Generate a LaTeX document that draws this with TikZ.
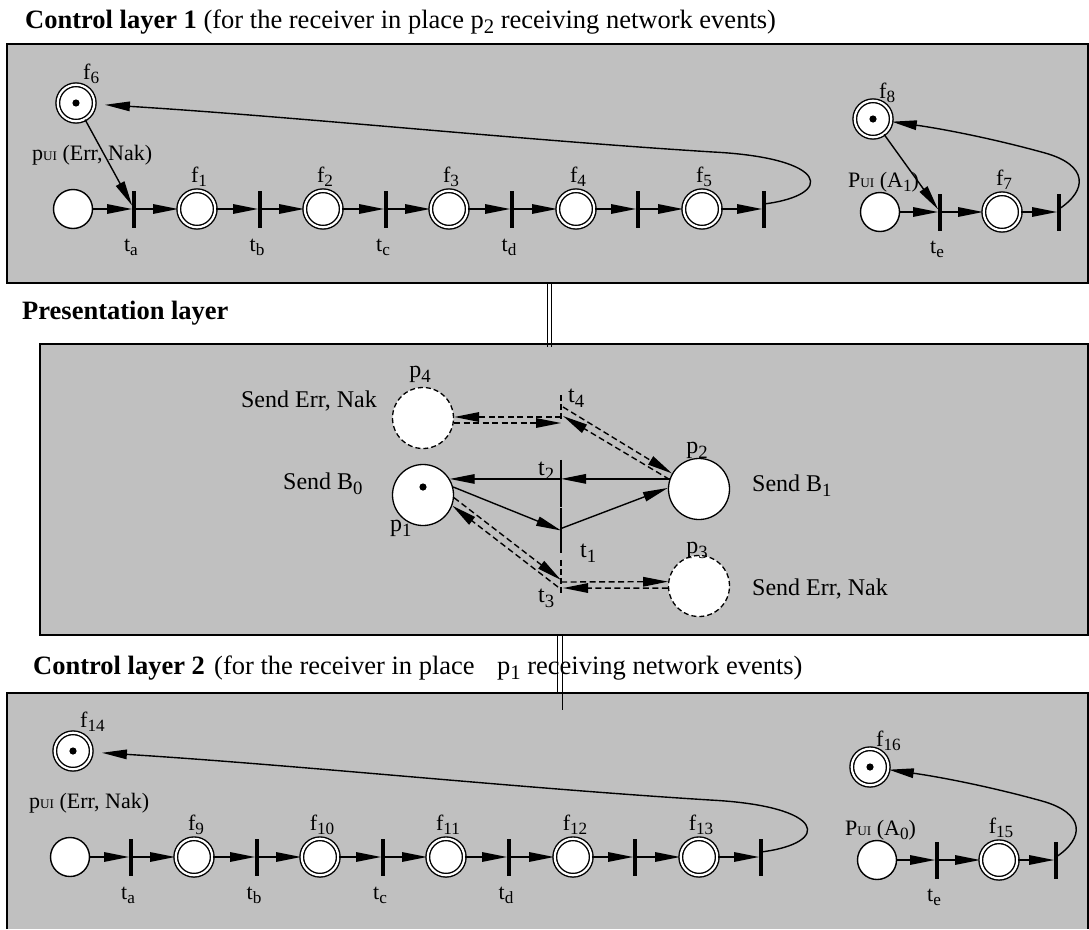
\documentclass[tikz,border=0pt]{standalone}
\usepackage{fontspec}
\setmainfont{Liberation Serif}
\usetikzlibrary{arrows.meta,calc}
\definecolor{boxgray}{RGB}{192,192,192}
\newcommand\sbs[1]{\raisebox{-0.22em}{\scalebox{0.78}{#1}}}
\newcommand\ui{\scalebox{0.6}{UI}}
\tikzset{
  boxline/.style={draw=black, line width=1.6pt},
  plc/.style={circle, draw, fill=white, line width=1.4pt, minimum size=39pt, inner sep=0pt},
  fplc/.style={circle, draw, double, double distance=2.2pt, fill=white, line width=1.4pt, minimum size=36.5pt, inner sep=0pt},
  bigplc/.style={circle, draw, fill=white, line width=1.3pt, minimum size=61pt, inner sep=0pt},
  dplc/.style={bigplc, dash pattern=on 5pt off 3pt},
  tr/.style={rectangle, fill=black, minimum width=3.4pt, minimum height=37pt, inner sep=0pt},
  mtr/.style={rectangle, minimum width=1.4pt, minimum height=#1, inner sep=0pt},
  arr/.style={-{Triangle[length=25pt,width=9.5pt]}, line width=1.4pt},
  darr/.style={arr, dash pattern=on 6pt off 3.5pt},
  lbl/.style={font=\fontsize{22}{25}\selectfont, inner sep=0pt},
  mlbl/.style={font=\fontsize{24}{28}\selectfont, inner sep=0pt},
  ttl/.style={font=\fontsize{26.5}{30}\selectfont, inner sep=0pt, anchor=base west},
}
% control layer: #1 prefix, #2 base number, #3 A subscript, #4 shift x, #5 shift y
\newcommand\ctrllayer[5]{%
\begin{scope}[shift={(#4,#5)}]
  \node[plc]  (#1pu) at (73,209) {};
  \node[tr]   (#1ta) at (134,209) {};
  \node[fplc] (#1f1) at (197,209) {};
  \node[tr]   (#1tb) at (260,209) {};
  \node[fplc] (#1f2) at (323,209) {};
  \node[tr]   (#1tc) at (386,209) {};
  \node[fplc] (#1f3) at (449,209) {};
  \node[tr]   (#1td) at (512,209) {};
  \node[fplc] (#1f4) at (576,209) {};
  \node[tr]   (#1tf) at (638,209) {};
  \node[fplc] (#1f5) at (702,209) {};
  \node[tr]   (#1tg) at (764,209) {};
  \node[fplc] (#1f6) at (76,103) {};
  \fill (#1f6) circle (3.6pt);
  \node[fplc] (#1f8) at (873,119) {};
  \fill (#1f8) circle (3.6pt);
  \node[plc]  (#1pa) at (880,212) {};
  \node[tr]   (#1te) at (940,212) {};
  \node[fplc] (#1f7) at (1002,212) {};
  \node[tr]   (#1tl) at (1059,212) {};
  % labels
  \node[lbl, anchor=base west] (#1lf6) at (83,79) {f\sbs{\the\numexpr#2+6\relax}};
  \node[lbl, anchor=base west] (#1lpu) at (32,160) {p\ui\ (Err, Nak)};
  \node[lbl, anchor=base] (#1lf1) at (199,182) {f\sbs{\the\numexpr#2+1\relax}};
  \node[lbl, anchor=base] (#1lf2) at (325,182) {f\sbs{\the\numexpr#2+2\relax}};
  \node[lbl, anchor=base] (#1lf3) at (451,182) {f\sbs{\the\numexpr#2+3\relax}};
  \node[lbl, anchor=base] (#1lf4) at (578,182) {f\sbs{\the\numexpr#2+4\relax}};
  \node[lbl, anchor=base] (#1lf5) at (704,182) {f\sbs{\the\numexpr#2+5\relax}};
  \node[lbl, anchor=base] (#1lta) at (131,251) {t\sbs{a}};
  \node[lbl, anchor=base] (#1ltb) at (257,251) {t\sbs{b}};
  \node[lbl, anchor=base] (#1ltc) at (383,251) {t\sbs{c}};
  \node[lbl, anchor=base] (#1ltd) at (509,251) {t\sbs{d}};
  \node[lbl, anchor=base west] (#1lf8) at (879,98) {f\sbs{\the\numexpr#2+8\relax}};
  \node[lbl, anchor=base west] (#1lpa) at (848,187) {P\ui\ (A\sbs{#3})};
  \node[lbl, anchor=base] (#1lte) at (937,253) {t\sbs{e}};
  \node[lbl, anchor=base] (#1lf7) at (1004,185) {f\sbs{\the\numexpr#2+7\relax}};
  % arcs
  \draw[arr] (#1pu) -- (#1ta);
  \draw[arr] (#1ta) -- (#1f1);
  \draw[arr] (#1f1) -- (#1tb);
  \draw[arr] (#1tb) -- (#1f2);
  \draw[arr] (#1f2) -- (#1tc);
  \draw[arr] (#1tc) -- (#1f3);
  \draw[arr] (#1f3) -- (#1td);
  \draw[arr] (#1td) -- (#1f4);
  \draw[arr] (#1f4) -- (#1tf);
  \draw[arr] (#1tf) -- (#1f5);
  \draw[arr] (#1f5) -- (#1tg);
  \draw[arr, shorten >=10pt] ($(#1tg)+(0,-5)$) .. controls (835,195) and (830,158) .. (713,152)
      .. controls (520,140) and (300,117) .. (#1f6);
  \draw[arr] (#1pa) -- (#1te);
  \draw[arr] (#1te) -- (#1f7);
  \draw[arr] (#1f7) -- (#1tl);
  \draw[arr] ($(#1tl)+(0,-3)$) .. controls (1088,190) and (1088,165) .. (1045,153)
      .. controls (1000,140.5) and (950,130) .. (#1f8);
\end{scope}}

\begin{document}
\begin{tikzpicture}[x=1pt,y=-1pt]
\useasboundingbox (0,0) rectangle (1089,929);
% boxes
\fill[boxgray] (7,44) rectangle (1088,283);
\draw[boxline] (7,44) rectangle (1088,283);
\fill[boxgray] (40,344) rectangle (1088,635);
\draw[boxline] (40,344) rectangle (1088,635);
\fill[boxgray] (7,693) rectangle (1088,929);
\draw[boxline] (7,929) -- (7,693) -- (1088,693) -- (1088,929);
% joining double lines
\draw[line width=1pt] (547,283) -- (547,347);
\draw[line width=1pt] (551,283) -- (551,347);
\draw[line width=1pt] (557,635) -- (557,693);
\draw[line width=1pt] (562.5,635) -- (562.5,710);
% titles
\node[ttl] (title1) at (25,28) {\textbf{Control layer 1} (for the receiver in place p\sbs{2} receiving network events)};
\node[ttl] (title2) at (22,319) {\textbf{Presentation layer}};
\node[ttl] (title3) at (33,674) {\textbf{Control layer 2}\hspace{0.1em} (for the receiver in place\hspace{0.6em} p\sbs{1} receiving network events)};

% control layers
\ctrllayer{a}{0}{1}{0}{0}
\draw[arr] (af6) -- (ata);
\draw[arr] (af8) -- (ate);
\ctrllayer{b}{8}{0}{-3}{648}

% presentation layer
\node[dplc]   (p4) at (423,418) {};
\node[bigplc] (p1) at (423,495) {};
\fill (423,487) circle (3.6pt);
\node[bigplc] (p2) at (699,489) {};
\node[dplc]   (p3) at (699,586) {};
\node[mtr=26pt] (t4) at (561,408) {};
\node[mtr=47pt] (t2) at (561,483.5) {};
\node[mtr=45pt] (t1) at (561,530.5) {};
\node[mtr=34pt] (t3) at (561,577) {};
\draw[line width=1.3pt, dash pattern=on 6pt off 3pt] (t4.north) -- (t4.south);
\draw[line width=1.3pt] (t2.north) -- (t2.south);
\draw[line width=1.3pt] (t1.north) -- (t1.south);
\draw[line width=1.3pt, dash pattern=on 6pt off 3pt] (t3.north) -- (t3.south);

\node[mlbl, anchor=base east] (l4) at (377,407) {Send Err, Nak};
\node[mlbl, anchor=base west] (l1) at (283,489) {Send B\sbs{0}};
\node[mlbl, anchor=base west] (l2) at (752,491) {Send B\sbs{1}};
\node[mlbl, anchor=base west] (l3) at (752,595) {Send Err, Nak};
\node[mlbl, anchor=base] (lp4) at (420,377) {p\sbs{4}};
\node[mlbl, anchor=base west] (lp1) at (390,531) {p\sbs{1}};
\node[mlbl, anchor=base] (lp2) at (697,453) {p\sbs{2}};
\node[mlbl, anchor=base] (lp3) at (697,553) {p\sbs{3}};
\node[mlbl, anchor=base west] (lt4) at (568,402) {t\sbs{4}};
\node[mlbl, anchor=base west] (lt2) at (538,475) {t\sbs{2}};
\node[mlbl, anchor=base west] (lt1) at (580,557) {t\sbs{1}};
\node[mlbl, anchor=base west] (lt3) at (538,602) {t\sbs{3}};

% solid arcs
\draw[arr] (p2.161) -- (p2.161 -| t2);
\draw[arr] (t2 |- p1.31) -- (p1.31);
\draw[arr] (p1.15) -- (t1.center);
\draw[arr] ($(t1.center)+(0,-2)$) -- (p2.178);
% dashed arcs
\draw[darr] ($(t4)+(0,9)$) -- ($(p4.east)+(0,-1)$);
\draw[darr] ($(p4.east)+(0,5)$) -- ($(t4)+(0,15)$);
\draw[darr] ($(t4)+(2,-1)$) -- (p2.150);
\draw[darr] (p2.162) -- ($(t4)+(2,8)$);
\draw[darr] (p1.-5) -- ($(t3)+(0,3)$);
\draw[darr] ($(t3)+(-3,10)$) -- (p1.-20);
\draw[darr] ($(t3)+(0,5)$) -- (p3.172);
\draw[darr] (p3.184) -- ($(t3)+(2,11)$);
\end{tikzpicture}
\end{document}
